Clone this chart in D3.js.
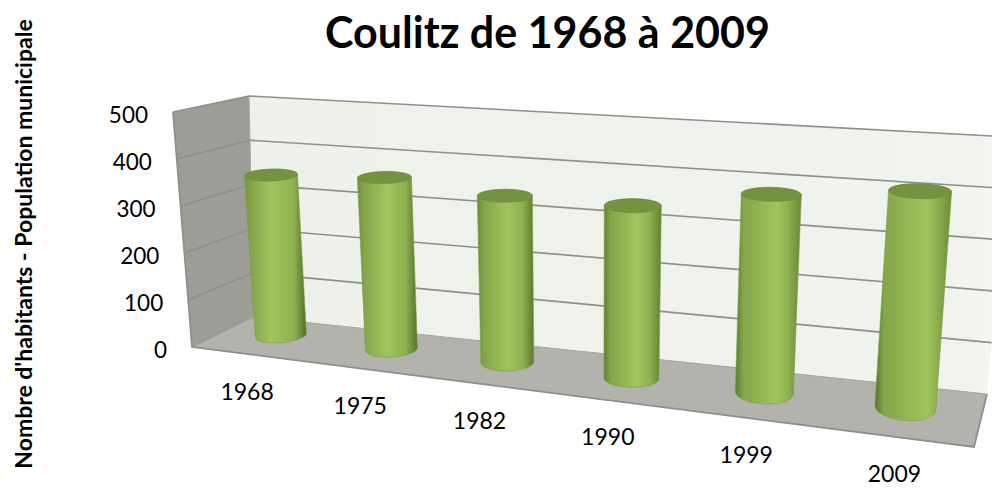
<!DOCTYPE html>
<html><head><meta charset="utf-8">
<script src="https://cdnjs.cloudflare.com/ajax/libs/d3/7.8.5/d3.min.js"></script>
<style>html,body{margin:0;padding:0;background:#fff}svg{display:block}text{font-family:Lato,sans-serif;fill:#000}</style>
</head><body><svg id="c" width="992" height="501"></svg>
<script>
const categories = ["1968","1975","1982","1990","1999","2009"];
const population = [348,363,343,347,388,410];
const yTicks = [0,100,200,300,400,500];
const title = "Coulitz de 1968 à 2009";
const yTitle = "Nombre d'habitants - Population municipale";

// frame of the 3D box (order: back-left, back-right, front-right, front-left)
const floorQuad = [[254,317],[987,394],[974,447],[192,347]];
const topQuad   = [[249,96],[1010,137],[994,165],[173,112]];

function homography(q){
  const [[x0,y0],[x1,y1],[x2,y2],[x3,y3]] = q;
  const dx1=x1-x2,dx2=x3-x2,sx=x0-x1+x2-x3,dy1=y1-y2,dy2=y3-y2,sy=y0-y1+y2-y3;
  const det=dx1*dy2-dx2*dy1;
  const g=(sx*dy2-dx2*sy)/det,h=(dx1*sy-sx*dy1)/det;
  const a=x1-x0+g*x1,b=x3-x0+h*x3,d=y1-y0+g*y1,e=y3-y0+h*y3;
  return (u,v)=>{const w=g*u+h*v+1;return [(a*u+b*v+x0)/w,(d*u+e*v+y0)/w];};
}
const floorH = homography(floorQuad), topH = homography(topQuad);
const yScale = d3.scaleLinear().domain([0,500]).range([0,1]);
const xScale = d3.scaleBand().domain(categories).range([0,1]);
const xWarp = d3.scalePow().exponent(0.875).domain([0,1]).range([0,1]);
const project = (u,d,value)=>{
  const a=floorH(u,d),b=topH(u,d),t=yScale(value);
  return [a[0]+(b[0]-a[0])*t,a[1]+(b[1]-a[1])*t];
};
const line = d3.line();
const svg = d3.select("#c");
const defs = svg.append("defs");

const wg = defs.append("linearGradient").attr("id","wall");
wg.append("stop").attr("offset",0).attr("stop-color","#eef0ea");
wg.append("stop").attr("offset",0.95).attr("stop-color","#f1f3ee");
wg.append("stop").attr("offset",1).attr("stop-color","#f8f9f6");

const V=500;
const poly=(pts,fill)=>svg.append("path").attr("d",line(pts)+"Z").attr("fill",fill);
poly([project(0,0,0),project(0,0,V),project(1,0,V),project(1,0,0)],"url(#wall)");
poly([project(0,0,0),project(0,0,V),project(0,1,V),project(0,1,0)],"#9c9d97");
poly([project(0,0,0),project(1,0,0),project(1,1,0),project(0,1,0)],"#b1b3ac");

const edge="#8f8f8d";
const stroke=(pts,w=1.6,c=edge)=>svg.append("path").attr("d",line(pts)).attr("fill","none").attr("stroke",c).attr("stroke-width",w);
yTicks.filter(v=>v>0).forEach(v=>{
  stroke([project(0,1,v),project(0,0,v),project(1,0,v)]);
});
stroke([project(0,1,V),project(0,1,0),project(1,1,0),project(1,0,0)],1.8);
stroke([project(0,0,V),project(0,0,0)],1,"#a8a8a4");
stroke([project(0,1,0),project(0,0,0)],1,"#9a9a96");
stroke([project(0,0,0),project(1,0,0)],1,"#a3a5a0");

// cylinders: screen-space ellipses around projected axis points
const dMid=0.47;
const centers=categories.map(c=>xScale(c)+xScale.bandwidth()/2);
const byU=r=>d3.scaleLinear().domain(centers).range(r);
const baseDx=byU([-6,-4,0,4,6,2.5]), topDx=byU([-11.5,-12,-8,-4,-1,0]), baseDy=byU([-2,-1,-1,1.5,1,-1]);
const rxBot=byU([25.5,26,26.5,27.5,29,30.5]), rxTop=byU([26.5,27,27.5,28.5,30,31.5]);
const ryBot=byU([7,8,9,9,11,13]), ryTop=byU([6,6,6.5,7,7,7.5]);
const tilt=d3.scaleLinear().domain([0,1]).range([-2.5,2.5]);
const ring=(c,rx,ry,tl)=>d3.range(0,72).map(i=>{
  const t=i/72*2*Math.PI;
  return [c[0]+rx*Math.cos(t),c[1]+ry*Math.sin(t)+tl*Math.cos(t)];
});
categories.forEach((c,i)=>{
  const u0=centers[i], u=xWarp(u0), v=population[i];
  const pb=project(u,dMid,0), pt=project(u,dMid,v);
  const cb=[pb[0]+baseDx(u0),pb[1]+baseDy(u0)], ct=[pt[0]+topDx(u0),pt[1]+baseDy(u0)];
  const top=ring(ct,rxTop(u0),ryTop(u0),tilt(u0)*0.4), bot=ring(cb,rxBot(u0),ryBot(u0),tilt(u0));
  const hull=d3.polygonHull(top.concat(bot));
  const peak=0.42+0.28*u0;
  const dark=d3.interpolateRgb("#7a9a40","#55702c"), darkR=d3.interpolateRgb("#4f6a2a","#6f8f38");
  const g=defs.append("linearGradient").attr("id","cyl"+i);
  g.append("stop").attr("offset",0).attr("stop-color",dark(u0));
  g.append("stop").attr("offset",0.12).attr("stop-color","#84a54a");
  g.append("stop").attr("offset",peak).attr("stop-color","#a1c55d");
  g.append("stop").attr("offset",0.8).attr("stop-color","#8eb04f");
  g.append("stop").attr("offset",1).attr("stop-color",darkR(u0));
  svg.append("path").attr("d",line(hull)+"Z").attr("fill",`url(#cyl${i})`).attr("stroke","#7f9f45").attr("stroke-width",0.6);
  svg.append("path").attr("d",line(top)+"Z").attr("fill","#76913f").attr("stroke","#6f8a3a").attr("stroke-width",0.5);
  const p=project(u,1.03,0);
  svg.append("text").attr("x",p[0]+1+baseDx(u0)).attr("y",p[1]+44).attr("text-anchor","middle").attr("font-size",23).text(c);
});

yTicks.forEach(v=>{
  const p=project(0,1,v);
  svg.append("text").attr("x",p[0]-25).attr("y",p[1]+10.5).attr("text-anchor","end").attr("font-size",22.5).text(v);
});
svg.append("text").attr("x",547.5).attr("y",48).attr("text-anchor","middle").attr("font-size",43).attr("font-weight",700).text(title);
svg.append("text").attr("transform","translate(31.5,244) rotate(-90)").attr("text-anchor","middle").attr("font-size",23).attr("font-weight",700).text(yTitle);
</script></body></html>
